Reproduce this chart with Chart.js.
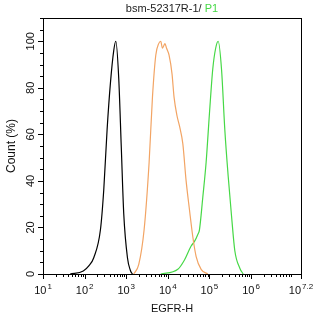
<!DOCTYPE html>
<html>
<head>
<meta charset="utf-8">
<script src="https://cdn.jsdelivr.net/npm/chart.js@4"></script>
<style>
  html, body { margin: 0; padding: 0; background: #fff; }
  canvas { display: block; }
</style>
</head>
<body>
<canvas id="chart1" width="314" height="317"></canvas>
<script>
// histogram traces: EGFR-H (log axis) vs Count (%)
const blackX  = [45, 93, 126, 166, 240, 288, 347, 417, 501, 562, 661, 759, 871, 1070, 1260, 1410];
const blackY  = [0, 1.3, 3.5, 7, 19, 36, 62, 82, 96, 100, 84, 55, 26, 7, 1.5, 0];

const orangeX = [1510, 1995, 2690, 3550, 4270, 5130, 6030, 6760, 7410, 7940, 8510, 9330,
                 10700, 12600, 14100, 16600, 19100, 22900, 27500, 33100, 39800, 47900, 63100, 91200];
const orangeY = [0, 4, 19, 48, 76, 94, 99, 100, 97, 98, 99, 97,
                 94, 86, 76, 68, 63.5, 56, 40, 27.6, 16, 7.5, 2, 0];

const greenX  = [6760, 17400, 25100, 36300, 43700, 52500, 57500, 69200, 83200, 100000, 120000,
                 141000, 162000, 195000, 234000, 282000, 339000, 407000, 537000, 646000];
const greenY  = [0, 2, 6, 12, 14, 17, 19, 33, 48, 69, 88, 97, 100, 88, 62, 42, 25, 10, 2.5, 0];

const xExponents = ["1", "2", "3", "4", "5", "6", "7.2"];
const yLabels    = [0, 20, 40, 60, 80, 100];

const COLORS = { black: "#000000", orange: "#f2a464", green: "#46d846" };

function pts(xs, ys) {
    return xs.map((x, i) => ({ x: x, y: ys[i] }));
}

function line(ctx, x1, y1, x2, y2) {
    ctx.beginPath();
    ctx.moveTo(x1, y1);
    ctx.lineTo(x2, y2);
    ctx.stroke();
}

// box, ticks and labels drawn by hand so minor ticks and 10^n labels look right
const flowAxes = {
    id: "flowAxes",
    afterDraw(chart) {
        const { ctx, chartArea: a, scales: { x, y } } = chart;
        ctx.save();
        ctx.strokeStyle = "#000";
        ctx.lineWidth = 1;
        ctx.strokeRect(a.left + 0.5, a.top + 0.5, a.right - a.left, a.bottom - a.top);

        // y ticks: major every 20, minor every 5
        for (let v = 0; v <= y.max; v += 5) {
            const py = Math.round(y.getPixelForValue(v)) + 0.5;
            const len = (v % 20 === 0 && v <= 100) ? 5 : 3;
            line(ctx, a.left - len, py, a.left + 0.5, py);
        }

        // x ticks: decades major, 2..9 minor
        for (let d = 1; d <= 6; d++) {
            for (let k = 1; k <= 9; k++) {
                const px = Math.round(x.getPixelForValue(k * Math.pow(10, d))) + 0.5;
                line(ctx, px, a.bottom + 0.5, px, a.bottom + (k === 1 ? 5 : 3));
            }
        }
        const pEnd = Math.round(x.getPixelForValue(x.max)) + 0.5;
        line(ctx, pEnd, a.bottom + 0.5, pEnd, a.bottom + 5);

        ctx.fillStyle = "#111";

        // y tick labels, rotated
        ctx.font = "11px 'Liberation Sans', Arial, sans-serif";
        ctx.textAlign = "center";
        ctx.textBaseline = "middle";
        yLabels.forEach(v => {
            const py = y.getPixelForValue(v);
            ctx.save();
            ctx.translate(31, py);
            ctx.rotate(-Math.PI / 2);
            ctx.fillText(String(v), 0, 0);
            ctx.restore();
        });

        // x tick labels as 10^n
        ctx.textAlign = "left";
        ctx.textBaseline = "alphabetic";
        xExponents.forEach(e => {
            const px = x.getPixelForValue(Math.pow(10, parseFloat(e)));
            ctx.font = "11px 'Liberation Sans', Arial, sans-serif";
            const wb = ctx.measureText("10").width;
            ctx.font = "8px 'Liberation Sans', Arial, sans-serif";
            const we = ctx.measureText(e).width;
            const x0 = px - (wb + 1 + we) / 2;
            ctx.font = "11px 'Liberation Sans', Arial, sans-serif";
            ctx.fillText("10", x0, 294);
            ctx.font = "8px 'Liberation Sans', Arial, sans-serif";
            ctx.fillText(e, x0 + wb + 1, 289);
        });

        // axis titles
        const cx = (a.left + a.right) / 2;
        ctx.font = "11px 'Liberation Sans', Arial, sans-serif";
        ctx.textAlign = "center";
        ctx.fillText("EGFR-H", cx, 312);

        ctx.save();
        ctx.translate(12, (a.top + a.bottom) / 2);
        ctx.rotate(-Math.PI / 2);
        ctx.font = "12px 'Liberation Sans', Arial, sans-serif";
        ctx.textBaseline = "middle";
        ctx.fillText("Count (%)", 0, 0);
        ctx.restore();

        // title with green P1
        ctx.font = "11px 'Liberation Sans', Arial, sans-serif";
        ctx.textAlign = "left";
        const t1 = "bsm-52317R-1/ ";
        const t2 = "P1";
        const w1 = ctx.measureText(t1).width;
        const w2 = ctx.measureText(t2).width;
        const tx = cx - (w1 + w2) / 2;
        ctx.fillStyle = "#222";
        ctx.fillText(t1, tx, 12);
        ctx.fillStyle = COLORS.green;
        ctx.fillText(t2, tx + w1, 12);

        ctx.restore();
    }
};

function trace(label, xs, ys, color) {
    return {
        label: label,
        data: pts(xs, ys),
        borderColor: color,
        borderWidth: 1.2,
        pointRadius: 0,
        fill: false,
        tension: 0.4,
        cubicInterpolationMode: "monotone"
    };
}

const ctx = document.getElementById("chart1").getContext("2d");

new Chart(ctx, {
    type: "line",
    data: {
        datasets: [
            trace("Control", blackX, blackY, COLORS.black),
            trace("Orange", orangeX, orangeY, COLORS.orange),
            trace("P1", greenX, greenY, COLORS.green)
        ]
    },
    options: {
        responsive: false,
        animation: false,
        layout: { padding: { left: 43, top: 18, right: 13, bottom: 43 } },
        plugins: {
            legend: { display: false },
            tooltip: { enabled: false }
        },
        scales: {
            x: {
                type: "logarithmic",
                min: 10,
                max: Math.pow(10, 7.2),
                display: false
            },
            y: {
                type: "linear",
                min: 0,
                max: 110,
                display: false
            }
        }
    },
    plugins: [flowAxes]
});
</script>
</body>
</html>
